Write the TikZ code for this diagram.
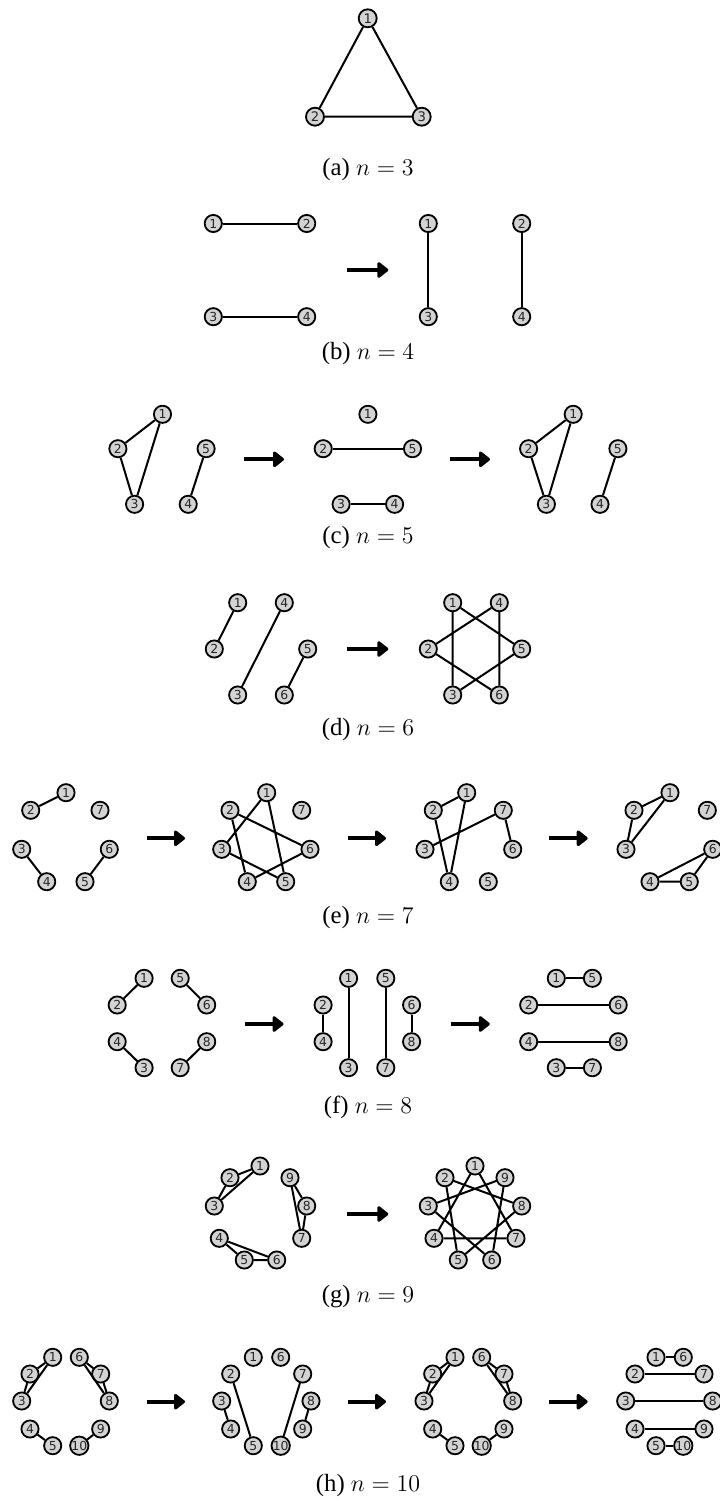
\documentclass[tikz,border=0pt]{standalone}
\usepackage{fontspec}
\setmainfont{Liberation Serif}
\newfontfamily\nodefont{DejaVu Sans}
\usetikzlibrary{arrows.meta}
\definecolor{nodefill}{RGB}{211,211,211}
\begin{document}
\begin{tikzpicture}[x=0.5pt,y=-0.5pt,
 vtx/.style={circle,draw,line width=0.9pt,fill=nodefill,minimum size=8.6pt,inner sep=0pt,text=black!85,font=\nodefont\fontsize{6.2}{7}\selectfont},
 bigvtx/.style={vtx,minimum size=9pt,font=\nodefont\fontsize{6.6}{7}\selectfont},
 lnk/.style={line width=1pt},
 bigarrow/.style={line width=2pt,-{Triangle[length=6pt,width=9pt,round]}},
 captxt/.style={font=\fontsize{12.4}{14}\selectfont}]
\useasboundingbox (0,0) rectangle (719,1504);

% (a)
\node[bigvtx] (a1) at (367.7,18.3) {1};
\node[bigvtx] (a2) at (315,116.7) {2};
\node[bigvtx] (a3) at (421.7,116.7) {3};
\draw[lnk] (a1)--(a2) (a2)--(a3) (a1)--(a3);
\node[captxt] (capa) at (368,170) {(a) $n=3$};

% (b)
\node[vtx] (b1n1) at (213.3,223.5) {1};
\node[vtx] (b1n2) at (306.7,223.5) {2};
\node[vtx] (b1n3) at (213.3,316.7) {3};
\node[vtx] (b1n4) at (306.7,316.7) {4};
\draw[lnk] (b1n1)--(b1n2) (b1n3)--(b1n4);
\coordinate (bA1) at (346.7,270); \coordinate (bA2) at (388.3,270);
\draw[bigarrow] (bA1)--(bA2);
\node[vtx] (b2n1) at (428.3,223.5) {1};
\node[vtx] (b2n3) at (428.3,316.7) {3};
\node[vtx] (b2n2) at (521.7,223.5) {2};
\node[vtx] (b2n4) at (521.7,316.7) {4};
\draw[lnk] (b2n1)--(b2n3) (b2n2)--(b2n4);
\node[captxt] (capb) at (368,354) {(b) $n=4$};

% (c)
\node[vtx] (c1n1) at (162.5,414.3) {1};
\node[vtx] (c1n2) at (117.9,448.7) {2};
\node[vtx] (c1n3) at (134.6,504.3) {3};
\node[vtx] (c1n5) at (206.1,448.7) {5};
\node[vtx] (c1n4) at (188.2,504.3) {4};
\draw[lnk] (c1n1)--(c1n2) (c1n1)--(c1n3) (c1n2)--(c1n3) (c1n5)--(c1n4);
\coordinate (cA1) at (244.3,459.3); \coordinate (cA2) at (284,459.3);
\draw[bigarrow] (cA1)--(cA2);
\node[vtx] (c2n1) at (367.9,414.3) {1};
\node[vtx] (c2n2) at (323.2,448.7) {2};
\node[vtx] (c2n5) at (412.5,448.7) {5};
\node[vtx] (c2n3) at (341.1,504.3) {3};
\node[vtx] (c2n4) at (394.6,504.3) {4};
\draw[lnk] (c2n2)--(c2n5) (c2n3)--(c2n4);
\coordinate (cB1) at (450,459.3); \coordinate (cB2) at (490,459.3);
\draw[bigarrow] (cB1)--(cB2);
\node[vtx] (c3n1) at (573.2,414.3) {1};
\node[vtx] (c3n2) at (528.6,448.7) {2};
\node[vtx] (c3n3) at (546.4,504.3) {3};
\node[vtx] (c3n5) at (617.9,448.7) {5};
\node[vtx] (c3n4) at (600,504.3) {4};
\draw[lnk] (c3n1)--(c3n2) (c3n1)--(c3n3) (c3n2)--(c3n3) (c3n5)--(c3n4);
\node[captxt] (capc) at (368,538) {(c) $n=5$};

% (d)
\node[vtx] (d1n1) at (237.7,602.7) {1};
\node[vtx] (d1n2) at (214.3,649) {2};
\node[vtx] (d1n4) at (284.3,602.7) {4};
\node[vtx] (d1n5) at (307.7,649) {5};
\node[vtx] (d1n3) at (237.7,695) {3};
\node[vtx] (d1n6) at (284.3,695) {6};
\draw[lnk] (d1n1)--(d1n2) (d1n4)--(d1n3) (d1n5)--(d1n6);
\coordinate (dA1) at (346.7,649); \coordinate (dA2) at (388.3,649);
\draw[bigarrow] (dA1)--(dA2);
\node[vtx] (d2n1) at (452.7,602.7) {1};
\node[vtx] (d2n4) at (499.3,602.7) {4};
\node[vtx] (d2n2) at (428.3,649) {2};
\node[vtx] (d2n5) at (521.7,649) {5};
\node[vtx] (d2n3) at (452.7,695) {3};
\node[vtx] (d2n6) at (499.3,695) {6};
\draw[lnk] (d2n1)--(d2n3) (d2n4)--(d2n6) (d2n1)--(d2n5) (d2n4)--(d2n2) (d2n2)--(d2n6) (d2n3)--(d2n5);
\node[captxt] (capd) at (368,730) {(d) $n=6$};

% (e)
\node[vtx] (e1n1) at (66,792.7) {1};
\node[vtx] (e1n2) at (30.7,810.3) {2};
\node[vtx] (e1n7) at (100,810.3) {7};
\node[vtx] (e1n3) at (21.7,849.3) {3};
\node[vtx] (e1n6) at (109.3,849.3) {6};
\node[vtx] (e1n4) at (46.7,881.7) {4};
\node[vtx] (e1n5) at (85,881.7) {5};
\draw[lnk] (e1n1)--(e1n2) (e1n3)--(e1n4) (e1n6)--(e1n5);
\coordinate (eA1) at (146.7,838.3); \coordinate (eA2) at (185,838.3);
\draw[bigarrow] (eA1)--(eA2);
\node[vtx] (e2n1) at (266.7,792.7) {1};
\node[vtx] (e2n2) at (230,810.3) {2};
\node[vtx] (e2n7) at (301.7,810.3) {7};
\node[vtx] (e2n3) at (221.7,849.3) {3};
\node[vtx] (e2n6) at (310,849.3) {6};
\node[vtx] (e2n4) at (247.3,881.7) {4};
\node[vtx] (e2n5) at (285.7,881.7) {5};
\draw[lnk] (e2n1)--(e2n3) (e2n1)--(e2n5) (e2n2)--(e2n4) (e2n2)--(e2n6) (e2n3)--(e2n5) (e2n4)--(e2n6);
\coordinate (eB1) at (348.3,838.3); \coordinate (eB2) at (386,838.3);
\draw[bigarrow] (eB1)--(eB2);
\node[vtx] (e3n1) at (466.7,792.7) {1};
\node[vtx] (e3n2) at (433.3,810.3) {2};
\node[vtx] (e3n7) at (503.3,810.3) {7};
\node[vtx] (e3n3) at (425,849.3) {3};
\node[vtx] (e3n6) at (512.7,849.3) {6};
\node[vtx] (e3n4) at (449.3,881.7) {4};
\node[vtx] (e3n5) at (488.3,881.7) {5};
\draw[lnk] (e3n1)--(e3n2) (e3n2)--(e3n4) (e3n1)--(e3n4) (e3n3)--(e3n7) (e3n7)--(e3n6);
\coordinate (eC1) at (549.3,838.3); \coordinate (eC2) at (587.7,838.3);
\draw[bigarrow] (eC1)--(eC2);
\node[vtx] (e4n1) at (670,792.7) {1};
\node[vtx] (e4n2) at (634,810.3) {2};
\node[vtx] (e4n7) at (707.3,810.3) {7};
\node[vtx] (e4n3) at (626,849.3) {3};
\node[vtx] (e4n6) at (712.7,849.3) {6};
\node[vtx] (e4n4) at (650,881.7) {4};
\node[vtx] (e4n5) at (689.3,881.7) {5};
\draw[lnk] (e4n1)--(e4n2) (e4n1)--(e4n3) (e4n2)--(e4n3) (e4n4)--(e4n5) (e4n4)--(e4n6) (e4n5)--(e4n6);
\node[captxt] (cape) at (368,918) {(e) $n=7$};

% (f)
\node[vtx] (f1n1) at (144.1,978.3) {1};
\node[vtx] (f1n2) at (117.2,1005) {2};
\node[vtx] (f1n5) at (180.2,978.3) {5};
\node[vtx] (f1n6) at (206.7,1005) {6};
\node[vtx] (f1n4) at (117.2,1041.7) {4};
\node[vtx] (f1n8) at (206.7,1041.7) {8};
\node[vtx] (f1n3) at (144.1,1067.7) {3};
\node[vtx] (f1n7) at (180.2,1067.7) {7};
\draw[lnk] (f1n1)--(f1n2) (f1n5)--(f1n6) (f1n4)--(f1n3) (f1n8)--(f1n7);
\coordinate (fA1) at (244.6,1024); \coordinate (fA2) at (283.5,1024);
\draw[bigarrow] (fA1)--(fA2);
\node[vtx] (f2n1) at (348.6,978.3) {1};
\node[vtx] (f2n5) at (385.8,978.3) {5};
\node[vtx] (f2n2) at (323.1,1005) {2};
\node[vtx] (f2n6) at (411.6,1005) {6};
\node[vtx] (f2n4) at (323.1,1041.7) {4};
\node[vtx] (f2n8) at (411.6,1041.7) {8};
\node[vtx] (f2n3) at (348.6,1067.7) {3};
\node[vtx] (f2n7) at (385.8,1067.7) {7};
\draw[lnk] (f2n1)--(f2n3) (f2n5)--(f2n7) (f2n2)--(f2n4) (f2n6)--(f2n8);
\coordinate (fB1) at (450.6,1024); \coordinate (fB2) at (489.8,1024);
\draw[bigarrow] (fB1)--(fB2);
\node[vtx] (f3n1) at (556.3,978.3) {1};
\node[vtx] (f3n5) at (592.4,978.3) {5};
\node[vtx] (f3n2) at (528.7,1005) {2};
\node[vtx] (f3n6) at (618.2,1005) {6};
\node[vtx] (f3n4) at (528.7,1041.7) {4};
\node[vtx] (f3n8) at (618.2,1041.7) {8};
\node[vtx] (f3n3) at (556.3,1067.7) {3};
\node[vtx] (f3n7) at (592.4,1067.7) {7};
\draw[lnk] (f3n1)--(f3n5) (f3n2)--(f3n6) (f3n4)--(f3n8) (f3n3)--(f3n7);
\node[captxt] (capf) at (368,1107) {(f) $n=8$};

% (g)
\node[vtx] (g1n1) at (260,1166) {1};
\node[vtx] (g1n2) at (230,1177.7) {2};
\node[vtx] (g1n3) at (214.3,1206) {3};
\node[vtx] (g1n9) at (290,1177.7) {9};
\node[vtx] (g1n8) at (306.7,1206) {8};
\node[vtx] (g1n7) at (301.7,1238.3) {7};
\node[vtx] (g1n4) at (219.3,1238.3) {4};
\node[vtx] (g1n5) at (244.3,1260) {5};
\node[vtx] (g1n6) at (276.7,1260) {6};
\draw[lnk] (g1n1)--(g1n2) (g1n1)--(g1n3) (g1n2)--(g1n3) (g1n9)--(g1n8) (g1n9)--(g1n7) (g1n8)--(g1n7) (g1n4)--(g1n5) (g1n4)--(g1n6) (g1n5)--(g1n6);
\coordinate (gA1) at (346.7,1214); \coordinate (gA2) at (388.3,1214);
\draw[bigarrow] (gA1)--(gA2);
\node[vtx] (g2n1) at (475,1166) {1};
\node[vtx] (g2n2) at (445,1177.7) {2};
\node[vtx] (g2n9) at (505,1177.7) {9};
\node[vtx] (g2n3) at (428.3,1206) {3};
\node[vtx] (g2n8) at (521.7,1206) {8};
\node[vtx] (g2n4) at (434,1238.3) {4};
\node[vtx] (g2n7) at (516,1238.3) {7};
\node[vtx] (g2n5) at (458.3,1260) {5};
\node[vtx] (g2n6) at (491.7,1260) {6};
\draw[lnk] (g2n1)--(g2n4) (g2n1)--(g2n7) (g2n4)--(g2n7) (g2n2)--(g2n5) (g2n2)--(g2n8) (g2n5)--(g2n8) (g2n3)--(g2n6) (g2n3)--(g2n9) (g2n6)--(g2n9);
\node[captxt] (capg) at (368,1297) {(g) $n=9$};

% (h)
\node[vtx] (h1n1) at (52.7,1357.3) {1};
\node[vtx] (h1n6) at (79.3,1357.3) {6};
\node[vtx] (h1n2) at (30,1374) {2};
\node[vtx] (h1n7) at (100.7,1374) {7};
\node[vtx] (h1n3) at (21.7,1401) {3};
\node[vtx] (h1n8) at (109.3,1401) {8};
\node[vtx] (h1n4) at (30,1429) {4};
\node[vtx] (h1n9) at (100.7,1429) {9};
\node[vtx] (h1n5) at (52.7,1445.7) {5};
\node[vtx] (h1n10) at (79.3,1445.7) {10};
\draw[lnk] (h1n1)--(h1n2) (h1n1)--(h1n3) (h1n2)--(h1n3) (h1n6)--(h1n7) (h1n6)--(h1n8) (h1n7)--(h1n8) (h1n4)--(h1n5) (h1n9)--(h1n10);
\coordinate (hA1) at (146.7,1401.7); \coordinate (hA2) at (185,1401.7);
\draw[bigarrow] (hA1)--(hA2);
\node[vtx] (h2n1) at (253.3,1357.3) {1};
\node[vtx] (h2n6) at (280.7,1357.3) {6};
\node[vtx] (h2n2) at (230.7,1374) {2};
\node[vtx] (h2n7) at (302.7,1374) {7};
\node[vtx] (h2n3) at (221.7,1401) {3};
\node[vtx] (h2n8) at (311,1401) {8};
\node[vtx] (h2n4) at (230.7,1429) {4};
\node[vtx] (h2n9) at (302.7,1429) {9};
\node[vtx] (h2n5) at (253.3,1445.7) {5};
\node[vtx] (h2n10) at (280.7,1445.7) {10};
\draw[lnk] (h2n2)--(h2n5) (h2n7)--(h2n10) (h2n3)--(h2n4) (h2n8)--(h2n9);
\coordinate (hB1) at (348.3,1401.7); \coordinate (hB2) at (386,1401.7);
\draw[bigarrow] (hB1)--(hB2);
\node[vtx] (h3n1) at (455,1357.3) {1};
\node[vtx] (h3n6) at (481.7,1357.3) {6};
\node[vtx] (h3n2) at (432.7,1374) {2};
\node[vtx] (h3n7) at (504,1374) {7};
\node[vtx] (h3n3) at (424,1401) {3};
\node[vtx] (h3n8) at (512.7,1401) {8};
\node[vtx] (h3n4) at (432.7,1429) {4};
\node[vtx] (h3n9) at (504,1429) {9};
\node[vtx] (h3n5) at (455,1445.7) {5};
\node[vtx] (h3n10) at (481.7,1445.7) {10};
\draw[lnk] (h3n1)--(h3n2) (h3n1)--(h3n3) (h3n2)--(h3n3) (h3n6)--(h3n7) (h3n6)--(h3n8) (h3n7)--(h3n8) (h3n4)--(h3n5) (h3n9)--(h3n10);
\coordinate (hC1) at (549.3,1401.7); \coordinate (hC2) at (587.7,1401.7);
\draw[bigarrow] (hC1)--(hC2);
\node[vtx] (h4n1) at (656,1357.3) {1};
\node[vtx] (h4n6) at (683.3,1357.3) {6};
\node[vtx] (h4n2) at (635,1374) {2};
\node[vtx] (h4n7) at (704,1374) {7};
\node[vtx] (h4n3) at (625.7,1401) {3};
\node[vtx] (h4n8) at (712.7,1401) {8};
\node[vtx] (h4n4) at (635,1429) {4};
\node[vtx] (h4n9) at (704,1429) {9};
\node[vtx] (h4n5) at (656,1445.7) {5};
\node[vtx] (h4n10) at (683.3,1445.7) {10};
\draw[lnk] (h4n1)--(h4n6) (h4n2)--(h4n7) (h4n3)--(h4n8) (h4n4)--(h4n9) (h4n5)--(h4n10);
\node[captxt] (caph) at (368,1486) {(h) $n=10$};
\end{tikzpicture}
\end{document}
